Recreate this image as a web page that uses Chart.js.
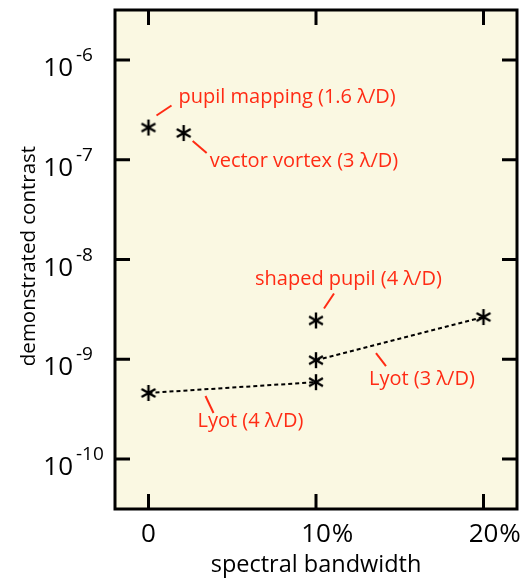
<!DOCTYPE html>
<html>
<head>
<meta charset="utf-8">
<script src="https://cdn.jsdelivr.net/npm/chart.js@4/dist/chart.umd.min.js"></script>
<style>
  html, body { margin: 0; padding: 0; background: #fff; }
  #wrap { width: 527px; height: 581px; }
</style>
</head>
<body>
<div id="wrap"><canvas id="chart" width="527" height="581"></canvas></div>
<script>
// data
const pupilMapping = [{ x: 0, y: 2.1e-7 }];
const vectorVortex = [{ x: 2.1, y: 1.85e-7 }];
const shapedPupil = [{ x: 10, y: 2.45e-9 }];
const lyot4 = [{ x: 0, y: 4.6e-10 }, { x: 10, y: 5.9e-10 }];
const lyot3 = [{ x: 10, y: 9.8e-10 }, { x: 20, y: 2.65e-9 }];

const seriesNames = ["pupil mapping (1.6 λ/D)", "vector vortex (3 λ/D)", "shaped pupil (4 λ/D)", "Lyot (4 λ/D)", "Lyot (3 λ/D)"];

const xTicks = [0, 10, 20];
const xTickLabels = ["0", "10", "20"];
const yTicks = [1e-10, 1e-9, 1e-8, 1e-7, 1e-6];
const yTickExponents = ["-10", "-9", "-8", "-7", "-6"];

const FONT = "'Open Sans', sans-serif";
const RED = "#ff2b14";

// six-armed asterisk marker
function makeStar() {
  const c = document.createElement("canvas");
  c.width = 20; c.height = 20;
  const g = c.getContext("2d");
  g.strokeStyle = "#000";
  g.lineWidth = 2.4;
  const r = 8;
  for (let k = 0; k < 3; k++) {
    const a = Math.PI / 2 + k * Math.PI / 3;
    g.beginPath();
    g.moveTo(10 - r * Math.cos(a), 10 - r * Math.sin(a));
    g.lineTo(10 + r * Math.cos(a), 10 + r * Math.sin(a));
    g.stroke();
  }
  return c;
}
const star = makeStar();

// label placement relative to the anchored point: leader line + text start
const notes = [
  { ds: 0, pt: 0, line: [8, -12, 23, -22], text: [30, -30] },
  { ds: 1, pt: 0, line: [9, 8, 23, 20], text: [26, 28] },
  { ds: 2, pt: 0, line: [8, -12, 18, -27], text: [-61, -41] },
  { ds: 3, pt: 0, line: [57, 3, 65, 20], text: [49, 28] },
  { ds: 4, pt: 0, line: [60, -7, 70, 6], text: [53, 19] },
];

const bgPlugin = {
  id: "bg",
  beforeDraw(chart) {
    const { ctx, chartArea: a } = chart;
    ctx.save();
    ctx.fillStyle = "#faf8e2";
    ctx.fillRect(a.left, a.top, a.right - a.left, a.bottom - a.top);
    ctx.restore();
  },
};

const framePlugin = {
  id: "frame",
  afterDraw(chart) {
    const { ctx, chartArea: a, scales } = chart;
    const xs = scales.x, ys = scales.y;
    ctx.save();
    ctx.strokeStyle = "#000";
    ctx.lineWidth = 3;
    ctx.strokeRect(a.left, a.top, a.right - a.left, a.bottom - a.top);

    const tl = 15;
    ctx.beginPath();
    xTicks.forEach(v => {
      const px = xs.getPixelForValue(v);
      ctx.moveTo(px, a.bottom); ctx.lineTo(px, a.bottom - tl);
      ctx.moveTo(px, a.top); ctx.lineTo(px, a.top + tl);
    });
    yTicks.forEach(v => {
      const py = ys.getPixelForValue(v);
      ctx.moveTo(a.left, py); ctx.lineTo(a.left + tl, py);
      ctx.moveTo(a.right, py); ctx.lineTo(a.right - tl, py);
    });
    ctx.stroke();

    // y tick labels 10^n
    ctx.fillStyle = "#000";
    yTicks.forEach((v, i) => {
      const py = ys.getPixelForValue(v);
      ctx.font = "26px " + FONT;
      ctx.textAlign = "right";
      ctx.textBaseline = "alphabetic";
      ctx.fillText("10", a.left - 42, py + 16);
      ctx.font = "19px " + FONT;
      ctx.textAlign = "left";
      ctx.fillText(yTickExponents[i], a.left - 39, py + 1);
    });

    // x tick labels
    xTicks.forEach((v, i) => {
      const px = xs.getPixelForValue(v);
      ctx.font = "26px " + FONT;
      ctx.textAlign = "center";
      ctx.textBaseline = "alphabetic";
      ctx.fillText(xTickLabels[i], px, a.bottom + 33);
      if (v !== 0) {
        const w = ctx.measureText(xTickLabels[i]).width;
        ctx.textAlign = "left";
        ctx.fillText("%", px + w / 2 + 1, a.bottom + 33);
      }
    });

    // axis titles
    ctx.textAlign = "center";
    ctx.font = "23.5px " + FONT;
    ctx.fillText("spectral bandwidth", (a.left + a.right) / 2, a.bottom + 63);
    ctx.save();
    ctx.font = "20.5px " + FONT;
    ctx.translate(35, 256);
    ctx.rotate(-Math.PI / 2);
    ctx.fillText("demonstrated contrast", 0, 0);
    ctx.restore();

    // annotations
    ctx.strokeStyle = RED;
    ctx.fillStyle = RED;
    ctx.lineWidth = 2;
    ctx.font = "20px " + FONT;
    ctx.textAlign = "left";
    ctx.textBaseline = "middle";
    notes.forEach(n => {
      const el = chart.getDatasetMeta(n.ds).data[n.pt];
      ctx.beginPath();
      ctx.moveTo(el.x + n.line[0], el.y + n.line[1]);
      ctx.lineTo(el.x + n.line[2], el.y + n.line[3]);
      ctx.stroke();
      ctx.fillText(seriesNames[n.ds], el.x + n.text[0], el.y + n.text[1]);
    });
    ctx.restore();
  },
};

function series(label, data, line) {
  return {
    label,
    data,
    showLine: line,
    borderColor: "#000",
    borderWidth: 2,
    borderDash: [4, 3],
    pointStyle: star,
    pointRadius: 8,
    pointHoverRadius: 8,
  };
}

new Chart(document.getElementById("chart"), {
  type: "scatter",
  data: {
    datasets: [
      series(seriesNames[0], pupilMapping, false),
      series(seriesNames[1], vectorVortex, false),
      series(seriesNames[2], shapedPupil, false),
      series(seriesNames[3], lyot4, true),
      series(seriesNames[4], lyot3, true),
    ],
  },
  options: {
    responsive: false,
    animation: false,
    events: [],
    layout: { padding: { left: 115, right: 8, top: 8, bottom: 72 } },
    plugins: { legend: { display: false }, tooltip: { enabled: false } },
    scales: {
      x: { type: "linear", min: -2, max: 22, display: false },
      y: { type: "logarithmic", min: Math.pow(10, -10.5), max: Math.pow(10, -5.5), display: false },
    },
  },
  plugins: [bgPlugin, framePlugin],
});
</script>
</body>
</html>
